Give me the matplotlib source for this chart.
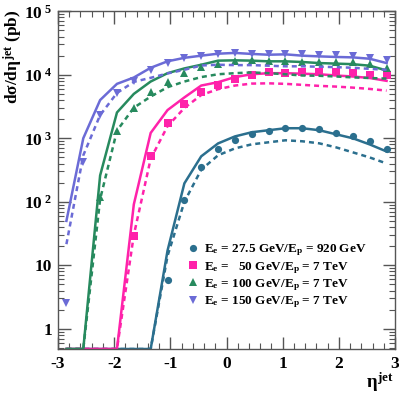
import numpy as np
import matplotlib
matplotlib.use("Agg")
import matplotlib.pyplot as plt
from matplotlib.ticker import FuncFormatter, LogLocator, MultipleLocator, NullFormatter

plt.rcParams['mathtext.fontset'] = 'custom'
plt.rcParams['mathtext.rm'] = 'Liberation Serif:bold'
plt.rcParams['mathtext.it'] = 'Liberation Serif:bold'
plt.rcParams['mathtext.bf'] = 'Liberation Serif:bold'
plt.rcParams['font.family'] = ['Liberation Serif', 'DejaVu Serif']
plt.rcParams['font.weight'] = 'bold'

# bin centres in eta_jet
eta = [-2.85, -2.55, -2.25, -1.95, -1.65, -1.35, -1.05, -0.75, -0.45, -0.15,
       0.15, 0.45, 0.75, 1.05, 1.35, 1.65, 1.95, 2.25, 2.55, 2.85]

# Ee = 27.5 GeV / Ep = 920 GeV
hera_pts = [0, 0, 0, 0, 0, 0, 5.8, 106, 355, 668, 930, 1156, 1291, 1442, 1442, 1390, 1200, 1076, 896, 668]
hera_solid = [0, 0, 0, 0, 0, 0, 17, 195, 520, 830, 1070, 1245, 1340, 1440, 1440, 1340, 1156, 1000, 800, 620]
hera_dash = [0, 0, 0, 0, 0, 0, 14, 100, 320, 540, 693, 803, 865, 930, 897, 833, 720, 600, 499, 401]

# Ee = 50 GeV / Ep = 7 TeV
e50_pts = [0, 0, 0, 0, 29, 518, 1750, 3470, 5310, 6940, 8550, 10000, 10900, 10700, 10900, 10900, 10900, 10600, 10000, 9750]
e50_solid = [0, 0, 0, 0, 91, 1214, 2780, 4400, 6770, 7650, 9200, 10200, 10600, 10600, 10400, 10200, 9750, 9400, 8900, 8030]
e50_dash = [0, 0, 0, 0, 30, 475, 1550, 3000, 4800, 5930, 6770, 7270, 7340, 7200, 6940, 6690, 6520, 6280, 5990, 5630]

# Ee = 100 GeV / Ep = 7 TeV
e100_pts = [0, 0, 118, 1300, 3030, 5450, 7830, 10500, 13200, 15000, 16500, 17000, 16500, 16400, 16000, 15900, 15900, 15800, 14700, 12900]
e100_solid = [0, 0, 260, 2550, 5000, 7830, 10600, 12600, 14400, 16700, 16900, 16700, 16300, 16300, 15900, 15300, 15000, 14700, 13900, 11700]
e100_dash = [0, 0, 110, 1320, 3030, 4540, 6370, 7830, 9200, 10200, 10600, 10900, 10600, 10200, 9750, 9650, 9400, 9100, 8900, 8700]

# Ee = 150 GeV / Ep = 7 TeV
e150_pts = [2.5, 418, 2320, 5170, 8030, 11700, 15300, 18400, 20000, 21500, 22100, 21300, 21100, 21500, 21300, 20800, 20300, 19500, 18400, 17300]
e150_solid = [50, 1000, 4000, 7200, 9060, 12900, 16300, 18500, 20000, 21500, 22100, 21300, 20700, 21000, 20000, 19500, 19100, 18800, 17900, 15300]
e150_dash = [21.5, 538, 2320, 5170, 7740, 8960, 10500, 12000, 14000, 14400, 14200, 14200, 13900, 13600, 13600, 13400, 13200, 12900, 12400, 12000]

labels = [r'E$_{e}$ = 27.5 GeV/E$_{p}$ = 920 GeV',
          r'E$_{e}$ =   50 GeV/E$_{p}$ = 7 TeV',
          r'E$_{e}$ = 100 GeV/E$_{p}$ = 7 TeV',
          r'E$_{e}$ = 150 GeV/E$_{p}$ = 7 TeV']

colors = ['#2b6f8e', '#ff22aa', '#278a5e', '#6b6bd6']
markers = ['o', 's', '^', 'v']

series = [(hera_pts, hera_solid, hera_dash),
          (e50_pts, e50_solid, e50_dash),
          (e100_pts, e100_solid, e100_dash),
          (e150_pts, e150_solid, e150_dash)]

YMIN, YMAX = 0.48, 1.0e5

fig = plt.figure(figsize=(3.99, 3.95), dpi=100)
ax = fig.add_axes([58/399, 1-349/395, 337/399, 337.7/395])

x = np.array(eta)
handles = []
for (pts, sol, das), c, m in zip(series, colors, markers):
    sol = np.array(sol, float)
    das = np.array(das, float)
    pts = np.array(pts, float)
    ax.plot(x, np.where(sol > 0, sol, YMIN), color=c, lw=1.8, solid_joinstyle='miter')
    ax.plot(x, np.where(das > 0, das, YMIN), color=c, lw=1.8, linestyle=(0, (2.0, 1.6)))
    msk = pts > 0
    h, = ax.plot(x[msk], pts[msk], linestyle='none', marker=m, color=c,
                 markersize=5.2, markeredgewidth=0)
    handles.append(h)

ax.set_yscale('log')
ax.set_xlim(-3, 3)
ax.set_ylim(YMIN, YMAX)

ax.xaxis.set_major_locator(MultipleLocator(1))
ax.xaxis.set_minor_locator(MultipleLocator(0.2))
ax.yaxis.set_major_locator(LogLocator(base=10, numticks=10))
ax.yaxis.set_minor_locator(LogLocator(base=10, subs=np.arange(2, 10), numticks=20))
ax.yaxis.set_minor_formatter(NullFormatter())

def yfmt(v, pos):
    e = int(round(np.log10(v)))
    if e == 0:
        return '1'
    if e == 1:
        return '10'
    return r'10$^{\ %d}$' % e

def xfmt(v, pos):
    return '%d' % round(v)

ax.yaxis.set_major_formatter(FuncFormatter(yfmt))
ax.xaxis.set_major_formatter(FuncFormatter(xfmt))

ax.tick_params(which='both', direction='in', top=True, right=True, colors='#555555',
               labelcolor='black', labelsize=12.5)
ax.tick_params(which='major', length=9, width=1)
ax.tick_params(which='minor', length=4.5, width=0.8)
ax.tick_params(axis='x', pad=5)
ax.tick_params(axis='y', pad=4)
for s in ax.spines.values():
    s.set_color('#555555')
    s.set_linewidth(1.0)

fig.text(13/399, 1-10/395, r'd$\sigma$/d$\eta^{\rm jet}$ (pb)', rotation=90,
         ha='center', va='top', fontsize=12.5, fontweight='bold')
fig.text(394/399, 1/395, r'$\eta^{\rm jet}$', ha='right', va='bottom', fontsize=13.5)

leg = ax.legend(handles=handles, labels=labels, loc='upper left',
                bbox_to_anchor=(0.385, 0.315), frameon=False, borderpad=0,
                borderaxespad=0, handlelength=0.8, handletextpad=0.45,
                labelspacing=0.12, prop={'family': 'Liberation Serif', 'weight': 'bold', 'size': 9.5})

fig.savefig('out.png', dpi=100)
